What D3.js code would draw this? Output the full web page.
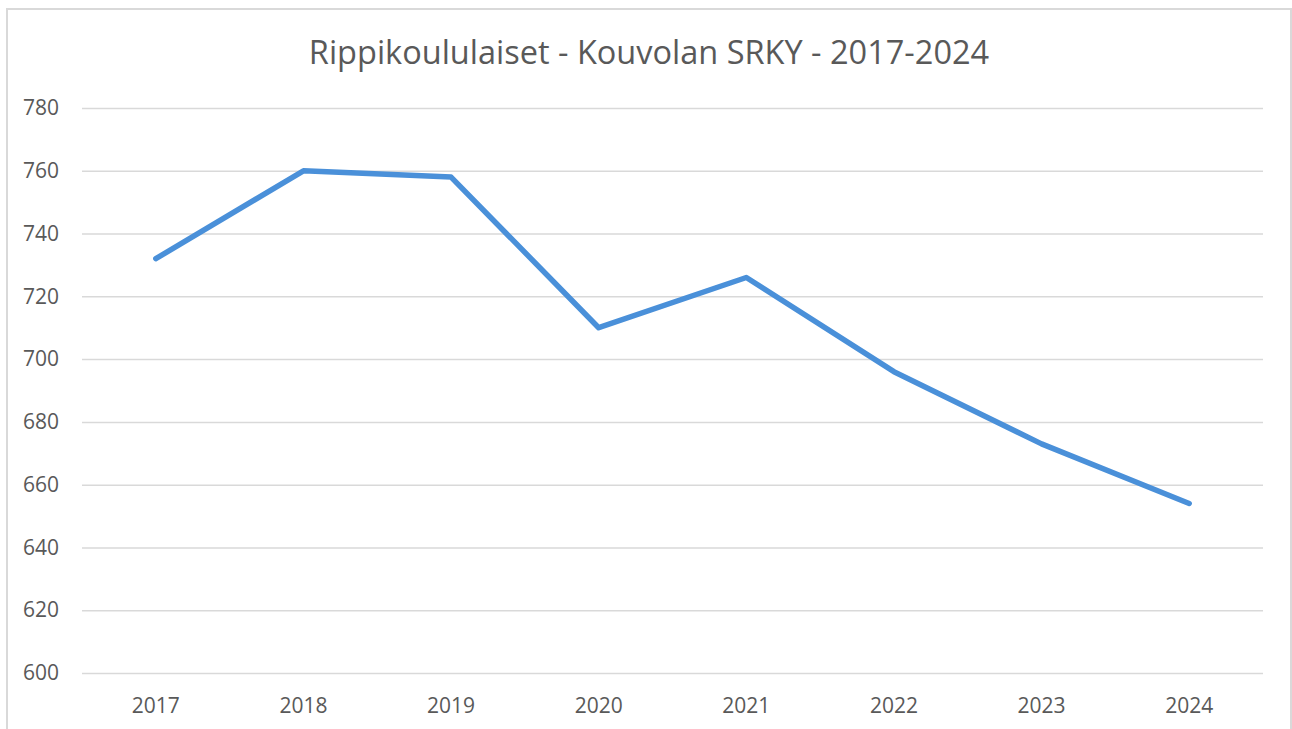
<!DOCTYPE html>
<html>
<head>
<meta charset="utf-8">
<script src="https://cdn.jsdelivr.net/npm/d3@7"></script>
<style>
  body { margin: 0; background: #fff; }
  text { font-family: "Open Sans", sans-serif; fill: #595959; }
</style>
</head>
<body>
<div id="display"></div>
<script>
let years = ["2017", "2018", "2019", "2020", "2021", "2022", "2023", "2024"]
let values = [732, 760, 758, 710, 726, 696, 673, 654]
let yTicks = [600, 620, 640, 660, 680, 700, 720, 740, 760, 780]
let title = "Rippikoululaiset - Kouvolan SRKY - 2017-2024"

function chart(parentNode)
{
  let width = 1292
  let height = 729
  let margin = {top: 108, right: 29, bottom: 56, left: 82}

  let x = d3.scaleBand(years, [margin.left, width - margin.right])
  let y = d3.scaleLinear([600, 780], [height - margin.bottom, margin.top])

  const svg = d3.create("svg")
      .attr("width", width)
      .attr("height", height)
      .attr("viewBox", [0, 0, width, height])

  // outer frame
  svg.append("rect")
      .attr("x", 7).attr("y", 9)
      .attr("width", width - 8).attr("height", height)
      .attr("fill", "none")
      .attr("stroke", "#d9d9d9")
      .attr("stroke-width", 2)

  svg.append("text")
      .attr("x", 649)
      .attr("y", 64)
      .attr("text-anchor", "middle")
      .attr("font-size", 32.5)
      .text(title)

  // grid + y labels
  svg.append("g")
      .attr("transform", `translate(${margin.left},0)`)
      .call(d3.axisLeft(y).tickValues(yTicks).tickSize(-(width - margin.left - margin.right)).tickPadding(23))
      .call(g => g.select(".domain").remove())
      .call(g => g.selectAll(".tick line").attr("stroke", "#d9d9d9").attr("stroke-width", 1.5))
      .call(g => g.selectAll(".tick text").attr("font-size", 21).attr("fill", "#595959"))

  svg.append("g")
      .attr("transform", `translate(0,${height - margin.bottom})`)
      .call(d3.axisBottom(x).tickSize(0).tickPadding(25))
      .call(g => g.select(".domain").remove())
      .call(g => g.selectAll(".tick text").attr("font-size", 21).attr("fill", "#595959"))

  let line = d3.line()
      .x((d, i) => x(years[i]) + x.bandwidth() / 2)
      .y(d => y(d))

  svg.append("path")
      .datum(values)
      .attr("fill", "none")
      .attr("stroke", "#4a90d9")
      .attr("stroke-width", 5.5)
      .attr("stroke-linejoin", "round")
      .attr("stroke-linecap", "round")
      .attr("d", line)

  parentNode.appendChild(svg.node())
}

document.addEventListener("DOMContentLoaded", () => {
  chart(document.getElementById("display"))
})
</script>
</body>
</html>
